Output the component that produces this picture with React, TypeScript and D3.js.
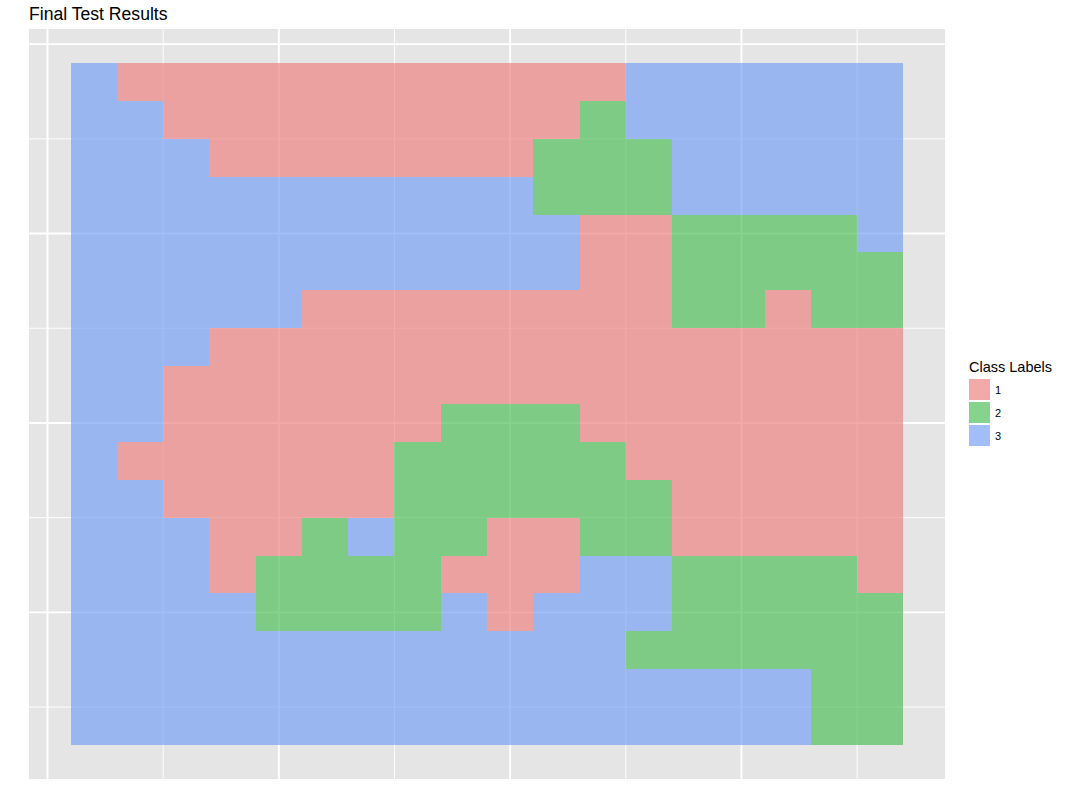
import React, { useEffect, useRef } from 'react';
import * as d3 from 'd3';

// class label per tile, top row first, left column first
const classGrid = [
  '311111111111333333',
  '331111111112333333',
  '333111111122233333',
  '333333333322233333',
  '333333333331122223',
  '333333333331122222',
  '333331111111122122',
  '333111111111111111',
  '331111111111111111',
  '331111112221111111',
  '311111122222111111',
  '331111122222211111',
  '333112322112211111',
  '333122221113322221',
  '333322223133322222',
  '333333333333222222',
  '333333333333333322',
  '333333333333333322',
];

const xValues = [1, 2, 3, 4, 5, 6, 7, 8, 9, 10, 11, 12, 13, 14, 15, 16, 17, 18];
const yValues = [19, 18, 17, 16, 15, 14, 13, 12, 11, 10, 9, 8, 7, 6, 5, 4, 3, 2];
const classLabels = ['1', '2', '3'];

const xMajor = [0, 5, 10, 15];
const xMinor = [2.5, 7.5, 12.5, 17.5];
const yMajor = [5, 10, 15, 20];
const yMinor = [2.5, 7.5, 12.5, 17.5];

const FONT = '"Liberation Sans", Arial, Helvetica, sans-serif';

const App: React.FC = () => {
  const svgRef = useRef<SVGSVGElement>(null);

  useEffect(() => {
    if (!svgRef.current) return;
    const svg = d3.select(svgRef.current);
    svg.selectAll('*').remove();

    const panel = { left: 29, right: 945, top: 29, bottom: 779 };

    // ggplot style 5% expansion around the tile extent
    const expand = (lo: number, hi: number): [number, number] => {
      const pad = (hi - lo) * 0.05;
      return [lo - pad, hi + pad];
    };
    const [xMin, xMax] = d3.extent(xValues) as [number, number];
    const [yMin, yMax] = d3.extent(yValues) as [number, number];

    const x = d3.scaleLinear().domain(expand(xMin - 0.5, xMax + 0.5)).range([panel.left, panel.right]);
    const y = d3.scaleLinear().domain(expand(yMin - 0.5, yMax + 0.5)).range([panel.bottom, panel.top]);

    const color = d3
      .scaleOrdinal<string, string>()
      .domain(classLabels)
      .range(['rgb(238,132,130)', 'rgb(83,193,94)', 'rgb(123,162,246)']);
    const tileAlpha = 0.7;

    // Panel background
    svg
      .append('rect')
      .attr('x', panel.left)
      .attr('y', panel.top)
      .attr('width', panel.right - panel.left)
      .attr('height', panel.bottom - panel.top)
      .attr('fill', '#e5e5e5');

    const grid = svg.append('g');
    // minor grid
    grid
      .selectAll('.vminor')
      .data(xMinor)
      .enter()
      .append('line')
      .attr('x1', d => x(d))
      .attr('x2', d => x(d))
      .attr('y1', panel.top)
      .attr('y2', panel.bottom)
      .attr('stroke', '#fff')
      .attr('stroke-width', 0.95);
    grid
      .selectAll('.hminor')
      .data(yMinor)
      .enter()
      .append('line')
      .attr('y1', d => y(d))
      .attr('y2', d => y(d))
      .attr('x1', panel.left)
      .attr('x2', panel.right)
      .attr('stroke', '#fff')
      .attr('stroke-width', 0.95);
    // major grid
    grid
      .selectAll('.vmajor')
      .data(xMajor)
      .enter()
      .append('line')
      .attr('x1', d => x(d))
      .attr('x2', d => x(d))
      .attr('y1', panel.top)
      .attr('y2', panel.bottom)
      .attr('stroke', '#fff')
      .attr('stroke-width', 1.9);
    grid
      .selectAll('.hmajor')
      .data(yMajor)
      .enter()
      .append('line')
      .attr('y1', d => y(d))
      .attr('y2', d => y(d))
      .attr('x1', panel.left)
      .attr('x2', panel.right)
      .attr('stroke', '#fff')
      .attr('stroke-width', 1.9);

    // Tiles
    const tiles = classGrid.flatMap((row, r) =>
      row.split('').map((label, c) => ({ x: xValues[c], y: yValues[r], label }))
    );
    svg
      .append('g')
      .attr('shape-rendering', 'crispEdges')
      .selectAll('rect')
      .data(tiles)
      .enter()
      .append('rect')
      .attr('x', d => x(d.x - 0.5))
      .attr('y', d => y(d.y + 0.5))
      .attr('width', d => x(d.x + 0.5) - x(d.x - 0.5))
      .attr('height', d => y(d.y - 0.5) - y(d.y + 0.5))
      .attr('fill', d => color(d.label))
      .attr('fill-opacity', tileAlpha);

    // Title
    svg
      .append('text')
      .attr('x', 29)
      .attr('y', 20)
      .attr('font-family', FONT)
      .attr('font-size', '17.6px')
      .attr('fill', '#000')
      .text('Final Test Results');

    // Legend
    const legend = svg.append('g').attr('transform', 'translate(969,0)');
    legend
      .append('text')
      .attr('x', 0)
      .attr('y', 372)
      .attr('font-family', FONT)
      .attr('font-size', '14.5px')
      .attr('fill', '#000')
      .text('Class Labels');
    const keys = legend
      .selectAll('.key')
      .data(classLabels)
      .enter()
      .append('g')
      .attr('transform', (d, i) => `translate(0,${379 + i * 23})`);
    keys
      .append('rect')
      .attr('width', 21)
      .attr('height', 21)
      .attr('fill', d => color(d))
      .attr('fill-opacity', tileAlpha);
    keys
      .append('text')
      .attr('x', 26)
      .attr('y', 14.5)
      .attr('font-family', FONT)
      .attr('font-size', '11px')
      .attr('fill', '#000')
      .text(d => d);
  }, []);

  return (
    <svg
      ref={svgRef}
      width={1067}
      height={808}
      style={{ position: 'absolute', left: 0, top: 0, background: '#fff' }}
    ></svg>
  );
};

export default App;
